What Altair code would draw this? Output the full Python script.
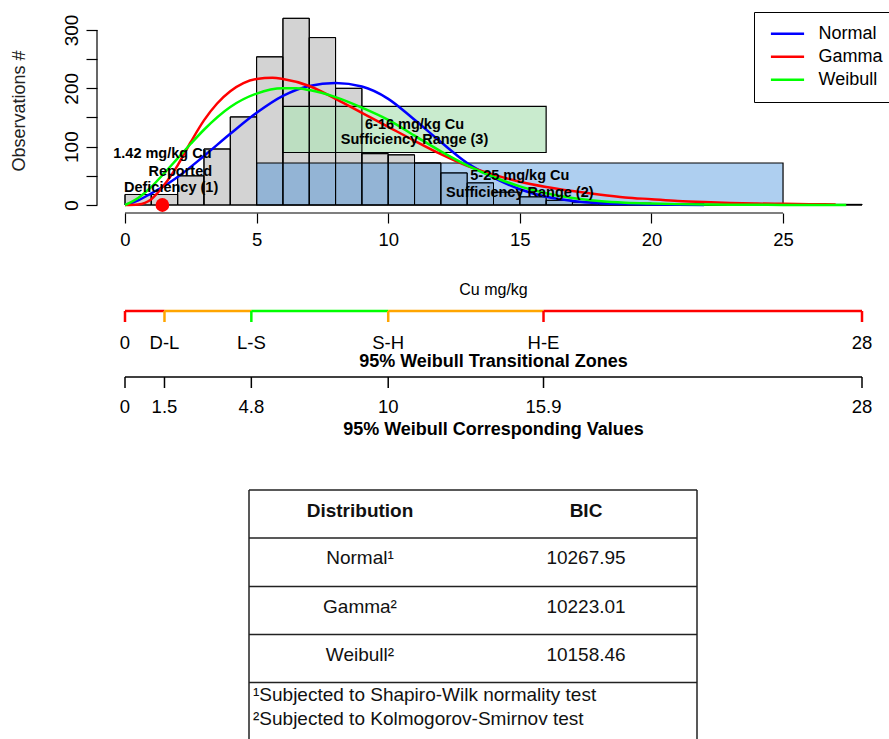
import altair as alt
import pandas as pd

FONT = "Liberation Sans, Arial, Helvetica, sans-serif"

# ---------------- data ----------------
bin_start = list(range(0, 28))
counts = [18, 18, 50, 96, 151, 254, 320, 287, 200, 88, 86, 72, 55, 38,
          22, 14, 8, 5, 4, 3, 2, 2, 1, 1, 1, 1, 1, 1]

normal_x = [0, 0.5, 1, 1.5, 2, 3, 4, 5, 6, 7, 8, 9, 10, 11, 12, 13, 14, 15,
            16, 17, 18, 19, 20, 21, 22]
normal_y = [0, 8, 20, 33, 48, 84, 122, 158, 187, 204, 209, 203, 182, 146, 108,
            72, 47, 27, 14, 7, 3, 1.5, 0.7, 0.3, 0]

gamma_x = [0, 0.5, 1, 1.5, 2, 2.5, 3, 3.5, 4, 4.5, 5, 5.6, 6, 7, 8, 9, 10, 11,
           12, 13, 14, 15, 16, 17, 18, 19, 20, 21, 22, 23, 24, 25, 26, 27]
gamma_y = [0, 1, 10, 35, 68, 108, 145, 174, 195, 209, 216, 218, 216, 204, 182,
           158, 134, 110, 87, 67, 52, 40, 31, 24, 18, 13, 10, 7, 5, 3.5, 2.5,
           2, 1.5, 1]

weibull_x = [0, 0.5, 1, 1.5, 2, 2.5, 3, 4, 5, 6, 6.5, 7, 8, 9, 10, 11, 12, 13,
             14, 15, 16, 17, 18, 19, 20, 21, 22, 23, 24, 25, 26, 27, 27.4]
weibull_y = [0, 12, 31, 55, 80, 105, 129, 168, 191, 200, 200, 197, 185, 167,
             146, 119, 92, 68, 48, 32, 20, 12, 7, 4, 2.5, 1.5, 1, 0.6, 0.4,
             0.2, 0.1, 0.05, 0]

dist_names = ["Normal", "Gamma", "Weibull"]
dist_colors = ["#0000ff", "#ff0000", "#00ff00"]

deficiency_value = 1.42

range_labels = ["5-25 mg/kg Cu", "6-16 mg/kg Cu"]
range_lo = [5, 6]
range_hi = [25, 16]
range_bottom = [0, 90]
range_top = [72, 169]
range_fill = ["#2a80d8", "#b2e2b9"]
range_opacity = [0.38, 0.7]

annot_text = ["1.42 mg/kg Cu", "Reported", "Deficiency (1)",
              "6-16 mg/kg Cu", "Sufficiency Range (3)",
              "5-25 mg/kg Cu", "Sufficiency Range (2)"]
annot_x = [1.42, 2.1, 1.75, 11, 11, 15, 15]
annot_y = [87, 57, 29, 137, 111, 50, 21]

zone_breaks = [0, 1.5, 4.8, 10, 15.9, 28]
zone_names = ["0", "D-L", "L-S", "S-H", "H-E", "28"]
zone_values = ["0", "1.5", "4.8", "10", "15.9", "28"]
zone_seg_colors = ["#ff0000", "#ffa500", "#00ff00", "#ffa500", "#ff0000"]
zone_tick_colors = ["#ff0000", "#ffa500", "#00ff00", "#ffa500", "#ff0000", "#ff0000"]

table_col1 = ["Distribution", "Normal¹", "Gamma²", "Weibull²"]
table_col2 = ["BIC", "10267.95", "10223.01", "10158.46"]
footnotes = ["¹Subjected to Shapiro-Wilk normality test",
             "²Subjected to Kolmogorov-Smirnov test"]

# ---------------- layout (pixels, relative to plot origin) ----------------
PLOT_W, PLOT_H = 737, 205
Y_TOP = 351.4
zone_line_y, zone_tick_y2, zone_label_y, zone_title_y = 311, 322, 343, 362
val_line_y, val_tick_y2, val_label_y, val_title_y = 377, 388, 407, 430
cu_title_y = 290
table_left, table_right = 124, 572
table_hlines = [490, 538, 586.5, 634.5, 682.5]
table_bottom = 739
table_row_y = [511, 558, 607, 655]
table_col_x = [235, 461]
foot_x = 128
foot_y = [695, 719]

X_SCALE = alt.Scale(domain=[0, 28], nice=False, zero=False)
Y_SCALE = alt.Scale(domain=[0, Y_TOP], nice=False, zero=False)

x_axis = alt.Axis(values=[0, 5, 10, 15, 20, 25], labelFlush=False, domain=False,
                  grid=False, offset=8, tickSize=10, tickColor="black",
                  tickWidth=1.2, labelFontSize=18.5, labelColor="black",
                  labelFont=FONT, labelPadding=7, title=None)
y_axis = alt.Axis(values=[0, 50, 100, 150, 200, 250, 300],
                  labelExpr="datum.value % 100 == 0 ? datum.label : ''",
                  domain=False, grid=False, offset=28, tickSize=11,
                  tickColor="black", tickWidth=1.2, labelAngle=270,
                  labelAlign="center", labelBaseline="alphabetic",
                  labelPadding=9, labelFontSize=19, labelColor="black",
                  labelFont=FONT, title=None)


def XS(field):
    return alt.X(field, scale=X_SCALE, axis=x_axis)


def YS(field):
    return alt.Y(field, scale=Y_SCALE, axis=y_axis)


one = pd.DataFrame({"k": [0]})

# histogram
hist_df = pd.DataFrame({"x0": bin_start, "x1": [b + 1 for b in bin_start],
                        "n": counts, "zero": [0] * len(counts)})
bars = alt.Chart(hist_df).mark_rect(fill="#d3d3d3", stroke="black", strokeWidth=1).encode(
    x=XS("x0:Q"), x2="x1", y=YS("n:Q"), y2="zero")
bar_outline = alt.Chart(hist_df).mark_rect(fillOpacity=0, stroke="black", strokeWidth=1).encode(
    x=XS("x0:Q"), x2="x1", y=YS("n:Q"), y2="zero")

# axis lines (R style: only over tick range)
xline_df = pd.DataFrame({"a": [0], "b": [25]})
xline = alt.Chart(xline_df).mark_rule(color="black", strokeWidth=1.2).encode(
    x=XS("a:Q"), x2="b", y=alt.value(PLOT_H + 8))
yline_df = pd.DataFrame({"a": [0], "b": [300]})
yline = alt.Chart(yline_df).mark_rule(color="black", strokeWidth=1.2).encode(
    y=YS("a:Q"), y2="b", x=alt.value(-28))

# ranges
range_df = pd.DataFrame({"lab": range_labels, "lo": range_lo, "hi": range_hi,
                         "bot": range_bottom, "top": range_top,
                         "fill": range_fill, "op": range_opacity})
boxes = alt.Chart(range_df).mark_rect(stroke="black", strokeWidth=1.2, strokeOpacity=1).encode(
    x=XS("lo:Q"), x2="hi", y=YS("bot:Q"), y2="top",
    fill=alt.Fill("fill:N", scale=None),
    fillOpacity=alt.FillOpacity("op:Q", scale=None))

# curves
rows = []
for name, xs, ys in [("Normal", normal_x, normal_y), ("Gamma", gamma_x, gamma_y),
                     ("Weibull", weibull_x, weibull_y)]:
    for i, (xv, yv) in enumerate(zip(xs, ys)):
        rows.append({"dist": name, "x": xv, "y": yv, "i": i})
curve_df = pd.DataFrame(rows)
curves = alt.Chart(curve_df).mark_line(strokeWidth=2.5, interpolate="monotone").encode(
    x=XS("x:Q"), y=YS("y:Q"), order="i:Q",
    color=alt.Color("dist:N", scale=alt.Scale(domain=dist_names, range=dist_colors),
                    legend=alt.Legend(title=None, orient="none", legendX=629, legendY=12,
                                      direction="vertical", strokeColor="black",
                                      fillColor="white", padding=10.5, symbolOffset=5,
                                      symbolType="stroke", symbolStrokeWidth=2.5,
                                      symbolSize=1100, clipHeight=22.5,
                                      labelFontSize=18, labelFont=FONT,
                                      labelColor="black", labelOffset=13,
                                      rowPadding=0,
                                      labelExpr="datum.label + '              '")))

dot_df = pd.DataFrame({"x": [deficiency_value], "y": [0]})
dot = alt.Chart(dot_df).mark_circle(size=190, color="#ff0000", opacity=1).encode(
    x=XS("x:Q"), y=YS("y:Q"))

annot_df = pd.DataFrame({"t": annot_text, "x": annot_x, "y": annot_y})
annots = alt.Chart(annot_df).mark_text(fontWeight="bold", fontSize=14.5, font=FONT,
                                       color="black", baseline="middle").encode(
    x=XS("x:Q"), y=YS("y:Q"), text="t:N")

ylab = alt.Chart(one).mark_text(angle=270, fontSize=18, font=FONT, color="#222222",
                                baseline="middle", text="Observations #").encode(
    x=alt.value(-105), y=alt.value(111))

# lower axes
seg_df = pd.DataFrame({"a": zone_breaks[:-1], "b": zone_breaks[1:], "c": zone_seg_colors})
segs = alt.Chart(seg_df).mark_rule(strokeWidth=2.5).encode(
    x=XS("a:Q"), x2="b", y=alt.value(zone_line_y),
    color=alt.Color("c:N", scale=None))
tick_df = pd.DataFrame({"a": zone_breaks, "c": zone_tick_colors, "n": zone_names,
                        "v": zone_values})
zticks = alt.Chart(tick_df).mark_rule(strokeWidth=2.5).encode(
    x=XS("a:Q"), y=alt.value(zone_line_y),
    y2=alt.value(zone_tick_y2), color=alt.Color("c:N", scale=None))
zlabels = alt.Chart(tick_df).mark_text(fontSize=18.5, font=FONT, color="black",
                                       baseline="middle").encode(
    x=XS("a:Q"), y=alt.value(zone_label_y), text="n:N")

vline_df = pd.DataFrame({"a": [zone_breaks[0]], "b": [zone_breaks[-1]]})
vline = alt.Chart(vline_df).mark_rule(color="black", strokeWidth=1.5).encode(
    x=XS("a:Q"), x2="b", y=alt.value(val_line_y))
vticks = alt.Chart(tick_df).mark_rule(color="black", strokeWidth=1.5).encode(
    x=XS("a:Q"), y=alt.value(val_line_y), y2=alt.value(val_tick_y2))
vlabels = alt.Chart(tick_df).mark_text(fontSize=18.5, font=FONT, color="black",
                                       baseline="middle").encode(
    x=XS("a:Q"), y=alt.value(val_label_y), text="v:N")

layers_extra = []
for t, py in [("95% Weibull Transitional Zones", zone_title_y),
              ("95% Weibull Corresponding Values", val_title_y)]:
    layers_extra.append(
        alt.Chart(pd.DataFrame({"x": [14], "t": [t]})).mark_text(
            fontSize=18, fontWeight="bold", font=FONT, color="black",
            baseline="middle").encode(x=XS("x:Q"), y=alt.value(py), text="t:N"))
layers_extra.append(
    alt.Chart(pd.DataFrame({"x": [14], "t": ["Cu mg/kg"]})).mark_text(
        fontSize=16, font=FONT, color="black", baseline="middle").encode(
        x=XS("x:Q"), y=alt.value(cu_title_y), text="t:N"))

# table frame
for hy in table_hlines:
    layers_extra.append(alt.Chart(one).mark_rule(color="#222222", strokeWidth=1.5).encode(
        x=alt.value(table_left), x2=alt.value(table_right), y=alt.value(hy)))
for vx in [table_left, table_right]:
    layers_extra.append(alt.Chart(one).mark_rule(color="#222222", strokeWidth=1.5).encode(
        x=alt.value(vx), y=alt.value(table_hlines[0]), y2=alt.value(table_bottom)))

# table text
for r, (c1, c2) in enumerate(zip(table_col1, table_col2)):
    weight = "bold" if r == 0 else "normal"
    for cx, t in zip(table_col_x, [c1, c2]):
        layers_extra.append(
            alt.Chart(pd.DataFrame({"t": [t]})).mark_text(
                fontSize=19, fontWeight=weight, font=FONT, color="#111111",
                baseline="middle").encode(
                x=alt.value(cx), y=alt.value(table_row_y[r]), text="t:N"))
for t, fy in zip(footnotes, foot_y):
    layers_extra.append(
        alt.Chart(pd.DataFrame({"t": [t]})).mark_text(
            fontSize=19, font=FONT, color="#111111", align="left",
            baseline="middle").encode(
            x=alt.value(foot_x), y=alt.value(fy), text="t:N"))

chart = alt.layer(
    bars, boxes, bar_outline, curves, dot, annots, xline, yline, ylab,
    segs, zticks, zlabels, vline, vticks, vlabels, *layers_extra
).properties(
    width=PLOT_W, height=PLOT_H,
    autosize=alt.AutoSizeParams(type="none"),
    padding={"left": 125, "top": 0, "right": 27, "bottom": 534},
    background="white",
).configure_view(stroke=None)

chart.save("out.html", embed_options={"renderer": "svg", "actions": False})
